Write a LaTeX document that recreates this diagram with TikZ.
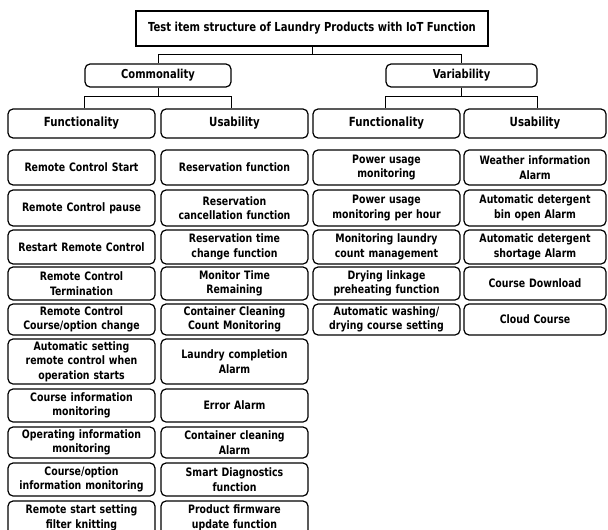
\documentclass[tikz,border=0pt]{standalone}
\usepackage{fontspec}
\setmainfont{DejaVu Sans Condensed}[FakeStretch=0.9]
\begin{document}
\begin{tikzpicture}[x=1pt,y=-1pt,
  every node/.style={font=\bfseries\fontsize{11.6}{14.5}\selectfont, align=center, inner sep=1pt},
  topbox/.style={draw, line width=1.2pt, minimum width=352, minimum height=35, font=\bfseries\fontsize{12.4}{14.5}\selectfont},
  midbox/.style={draw, line width=1.2pt, rounded corners=5pt, minimum height=23, font=\bfseries\fontsize{12.3}{14.5}\selectfont},
  catbox/.style={draw, line width=1.2pt, rounded corners=5pt, minimum height=29, minimum width=#1, font=\bfseries\fontsize{12.6}{14.5}\selectfont},
  item/.style={draw, line width=1.2pt, rounded corners=5pt, text width=#1-4pt, minimum width=#1},
  conn/.style={line width=1pt}
]
\useasboundingbox (0,0) rectangle (608,530);
% top
\node[topbox] (top) at (312,28.5) {Test item structure of Laundry Products with IoT Function};
\node[midbox, minimum width=146] (com) at (158,75.5) {Commonality};
\node[midbox, minimum width=151] (var) at (461.5,75.5) {Variability};
\node[catbox=147] (f1) at (81.5,123.5) {Functionality};
\node[catbox=147] (u1) at (234.5,123.5) {Usability};
\node[catbox=147] (f2) at (386.5,123.5) {Functionality};
\node[catbox=142] (u2) at (535,123.5) {Usability};
\draw[conn] (top.south) -- ++(0,8) -| (com.north);
\draw[conn] (top.south) -- ++(0,8) -| (var.north);
\draw[conn] (com.south) -- ++(0,9) -| (com.west |- f1.north);
\draw[conn] (com.south) -- ++(0,9) -| (com.east |- u1.north);
\draw[conn] (var.south) -- ++(0,9) -| (var.west |- f2.north);
\draw[conn] (var.south) -- ++(0,9) -| (var.east |- u2.north);
% column 1
\node[item=147, minimum height=35] (a1) at (81.5,167.5) {Remote Control Start};
\node[item=147, minimum height=36] (a2) at (81.5,208) {Remote Control pause};
\node[item=147, minimum height=34] (a3) at (81.5,247) {Restart Remote Control};
\node[item=147, minimum height=33] (a4) at (81.5,283.5) {Remote Control\\Termination};
\node[item=147, minimum height=31] (a5) at (81.5,319.5) {Remote Control\\Course/option change};
\node[item=147, minimum height=45] (a6) at (81.5,361.5) {Automatic setting\\remote control when\\operation starts};
\node[item=147, minimum height=33] (a7) at (81.5,405.5) {Course information\\monitoring};
\node[item=147, minimum height=31] (a8) at (81.5,442.5) {Operating information\\monitoring};
\node[item=147, minimum height=33] (a9) at (81.5,479.5) {Course/option\\information monitoring};
\node[item=147, minimum height=34] (a10) at (81.5,518) {Remote start setting\\filter knitting};
% column 2
\node[item=147, minimum height=35] (b1) at (234.5,167.5) {Reservation function};
\node[item=147, minimum height=36] (b2) at (234.5,208) {Reservation\\cancellation function};
\node[item=147, minimum height=34] (b3) at (234.5,247) {Reservation time\\change function};
\node[item=147, minimum height=33] (b4) at (234.5,283.5) {Monitor Time\\Remaining};
\node[item=147, minimum height=31] (b5) at (234.5,319.5) {Container Cleaning\\Count Monitoring};
\node[item=147, minimum height=45] (b6) at (234.5,361.5) {Laundry completion\\Alarm};
\node[item=147, minimum height=33] (b7) at (234.5,405.5) {Error Alarm};
\node[item=147, minimum height=31] (b8) at (234.5,442.5) {Container cleaning\\Alarm};
\node[item=147, minimum height=33] (b9) at (234.5,479.5) {Smart Diagnostics\\function};
\node[item=147, minimum height=34] (b10) at (234.5,518) {Product firmware\\update function};
% column 3
\node[item=147, minimum height=35] (c1) at (386.5,167.5) {Power usage\\monitoring};
\node[item=147, minimum height=36] (c2) at (386.5,208) {Power usage\\monitoring per hour};
\node[item=147, minimum height=34] (c3) at (386.5,247) {Monitoring laundry\\count management};
\node[item=147, minimum height=33] (c4) at (386.5,283.5) {Drying linkage\\preheating function};
\node[item=147, minimum height=31] (c5) at (386.5,319.5) {Automatic washing/\\drying course setting};
% column 4
\node[item=142, minimum height=35] (d1) at (535,167.5) {Weather information\\Alarm};
\node[item=142, minimum height=36] (d2) at (535,208) {Automatic detergent\\bin open Alarm};
\node[item=142, minimum height=34] (d3) at (535,247) {Automatic detergent\\shortage Alarm};
\node[item=142, minimum height=33] (d4) at (535,283.5) {Course Download};
\node[item=142, minimum height=31] (d5) at (535,319.5) {Cloud Course};
\end{tikzpicture}
\end{document}
